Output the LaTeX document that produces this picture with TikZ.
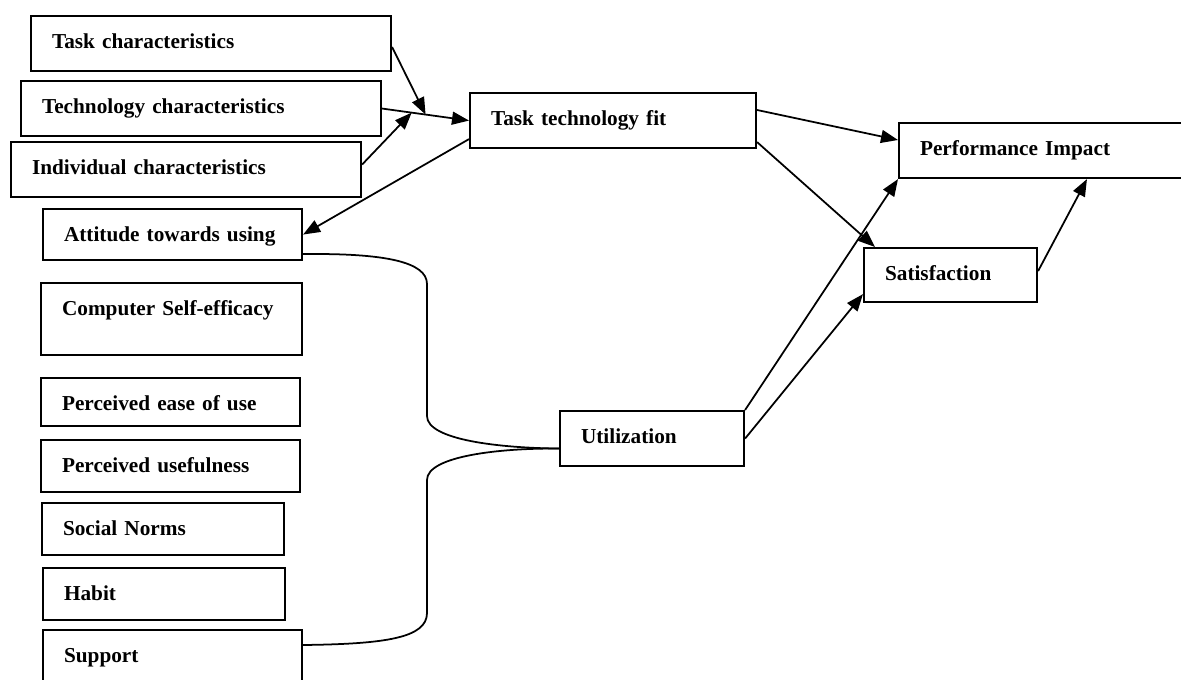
\documentclass[tikz,border=0pt]{standalone}
\usepackage{fontspec}
\setmainfont{Liberation Serif}
\usepackage{tikz}
\usetikzlibrary{positioning}
\usetikzlibrary{calc}
\usetikzlibrary{arrows.meta}
\newcommand{\factorbox}[6]{ % Takes node name, left x, top y, right x, bottom y (layout pixels), label text as arguments
    \node [factor, text width={(#4-#2-42)*0.02cm}, text depth={(#5-#3-32)*0.02cm}] (#1) at (#2, #3) {#6};
}

\begin{document}
\begin{tikzpicture}[x=0.02cm, y=-0.02cm,
    factor/.style={draw, line width=1.2pt, anchor=north west, align=left, inner xsep=0.42cm, inner ysep=0pt, text height=0.64cm, font=\fontsize{12.1}{14}\selectfont\bfseries},
    link/.style={line width=1pt, -{Triangle[length=0.34cm, width=0.26cm]}},
    brace/.style={line width=1pt}]
            \useasboundingbox (0,0) rectangle (1181,680);
            \clip (0,0) rectangle (1181,680);

            % Fit inputs
            \factorbox{task}{30}{15}{390}{70}{Task characteristics}
            \factorbox{tech}{20}{80}{380}{135}{Technology characteristics}
            \factorbox{indiv}{10}{141}{360}{196}{Individual characteristics}

            % Utilization factors
            \factorbox{att}{42}{208}{301}{259}{Attitude towards using}
            \factorbox{cse}{40}{282}{301}{354}{Computer Self-efficacy}
            \factorbox{peou}{40}{377}{299}{425}{Perceived ease of use}
            \factorbox{pu}{40}{439}{299}{491}{Perceived usefulness}
            \factorbox{sn}{41}{502}{283}{554}{Social Norms}
            \factorbox{habit}{42}{567}{284}{619}{Habit}
            \factorbox{support}{42}{629}{301}{700}{Support}

            % Outcomes
            \factorbox{ttf}{469}{92}{755}{147}{Task technology fit}
            \factorbox{util}{559}{410}{743}{465}{Utilization}
            \factorbox{sat}{863}{247}{1036}{301}{Satisfaction}
            \factorbox{perf}{898}{122}{1200}{177}{Performance Impact}

            % Arrows into task technology fit
            \draw[link] (tech.east) -- (ttf.west);
            \coordinate (j1) at ($(tech.east)!0.34!(ttf.west)$);
            \coordinate (j2) at ($(tech.east)!0.5!(ttf.west)$);
            \draw[link] ([yshift=-0.64cm]task.north east) -- (j2);
            \draw[link] ([yshift=0.1cm]indiv.east) -- (j1);
            \draw[link] ([yshift=0.2cm]ttf.south west) -- (att.east);

            % Arrows to the outcomes
            \draw[link] ([yshift=-0.36cm]ttf.north east) -- ([yshift=-0.36cm]perf.north west);
            \draw[link] ([yshift=0.14cm]ttf.south east) -- ([xshift=0.24cm]sat.north west);
            \draw[link] (util.north east) -- (perf.south west);
            \draw[link] (util.east) -- ([yshift=0.18cm]sat.south west);
            \draw[link] ([yshift=0.08cm]sat.east) -- ([xshift=3.78cm]perf.south west);

            % Brace from the factors to utilization
            \coordinate (tip) at ([yshift=-0.2cm]util.west);
            \draw[brace] ([yshift=0.14cm]att.south east) .. controls (385,253) and (427,262) .. (427,284)
                -- (427,416) .. controls (427,440) and (500,448) .. (tip);
            \draw[brace] (tip) .. controls (500,448) and (427,456) .. (427,480)
                -- (427,613) .. controls (427,638) and (385,644) .. ([yshift=-0.32cm]support.north east);
        \end{tikzpicture}
\end{document}
